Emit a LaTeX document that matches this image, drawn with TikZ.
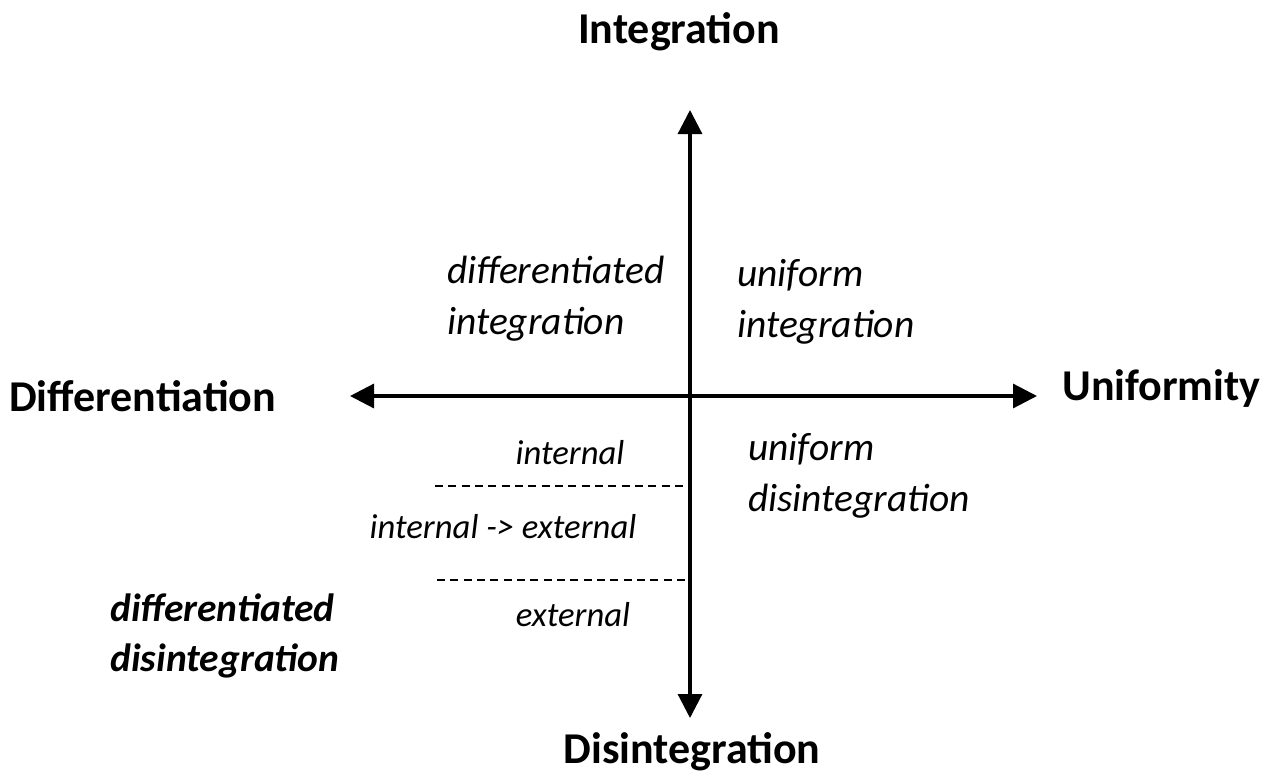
\documentclass[tikz,border=0pt]{standalone}
\usepackage{fontspec}
\setmainfont{Carlito}
\usetikzlibrary{arrows.meta}
\tikzset{
  axis/.style={line width=2.4pt, -{Triangle[length=18pt,width=18pt]}},
  sep/.style={line width=1pt, dash pattern=on 6pt off 4pt},
  pole/.style={font=\fontsize{33}{38}\selectfont\bfseries, inner sep=0pt},
  quad/.style={font=\fontsize{29.6}{38}\selectfont\itshape, align=left, inner sep=0pt, anchor=west},
  small/.style={font=\fontsize{26}{30}\selectfont\itshape, inner sep=0pt},
}
\begin{document}
\begin{tikzpicture}[x=0.75pt,y=-0.75pt]
\useasboundingbox (0,0) rectangle (1278,774);
\coordinate (O) at (690,396);
\coordinate (T) at (690,110);
\coordinate (B) at (690,718);
\coordinate (L) at (350,396);
\coordinate (R) at (1037,396);
\coordinate (d1a) at (435,486);
\coordinate (d1b) at (690,486);
\coordinate (d2a) at (437,580);
\coordinate (d2b) at (690,580);
\draw[axis] (O) -- (T);
\draw[axis] (O) -- (B);
\draw[axis] (O) -- (L);
\draw[axis] (O) -- (R);
\draw[sep] (d1a) -- (d1b);
\draw[sep] (d2a) -- (d2b);
\node[pole] (int) at (679,32) {Integration};
\node[pole] (dis) at (692,752) {Disintegration};
\node[pole, anchor=west] (diff) at (9,396) {Differentiation};
\node[pole, anchor=west] (unif) at (1062,389) {Uniformity};
\node[quad] (di) at (447,299) {differentiated\\integration};
\node[quad] (ui) at (737,302) {uniform\\integration};
\node[quad] (ud) at (748,476) {uniform\\disintegration};
\node[quad, font=\fontsize{29.6}{38}\selectfont\bfseries\itshape] (dd) at (110,636) {differentiated\\disintegration};
\node[small] (in) at (570,453) {internal};
\node[small] (ie) at (503,527) {internal -> external};
\node[small] (ex) at (573,615) {external};
\end{tikzpicture}
\end{document}
